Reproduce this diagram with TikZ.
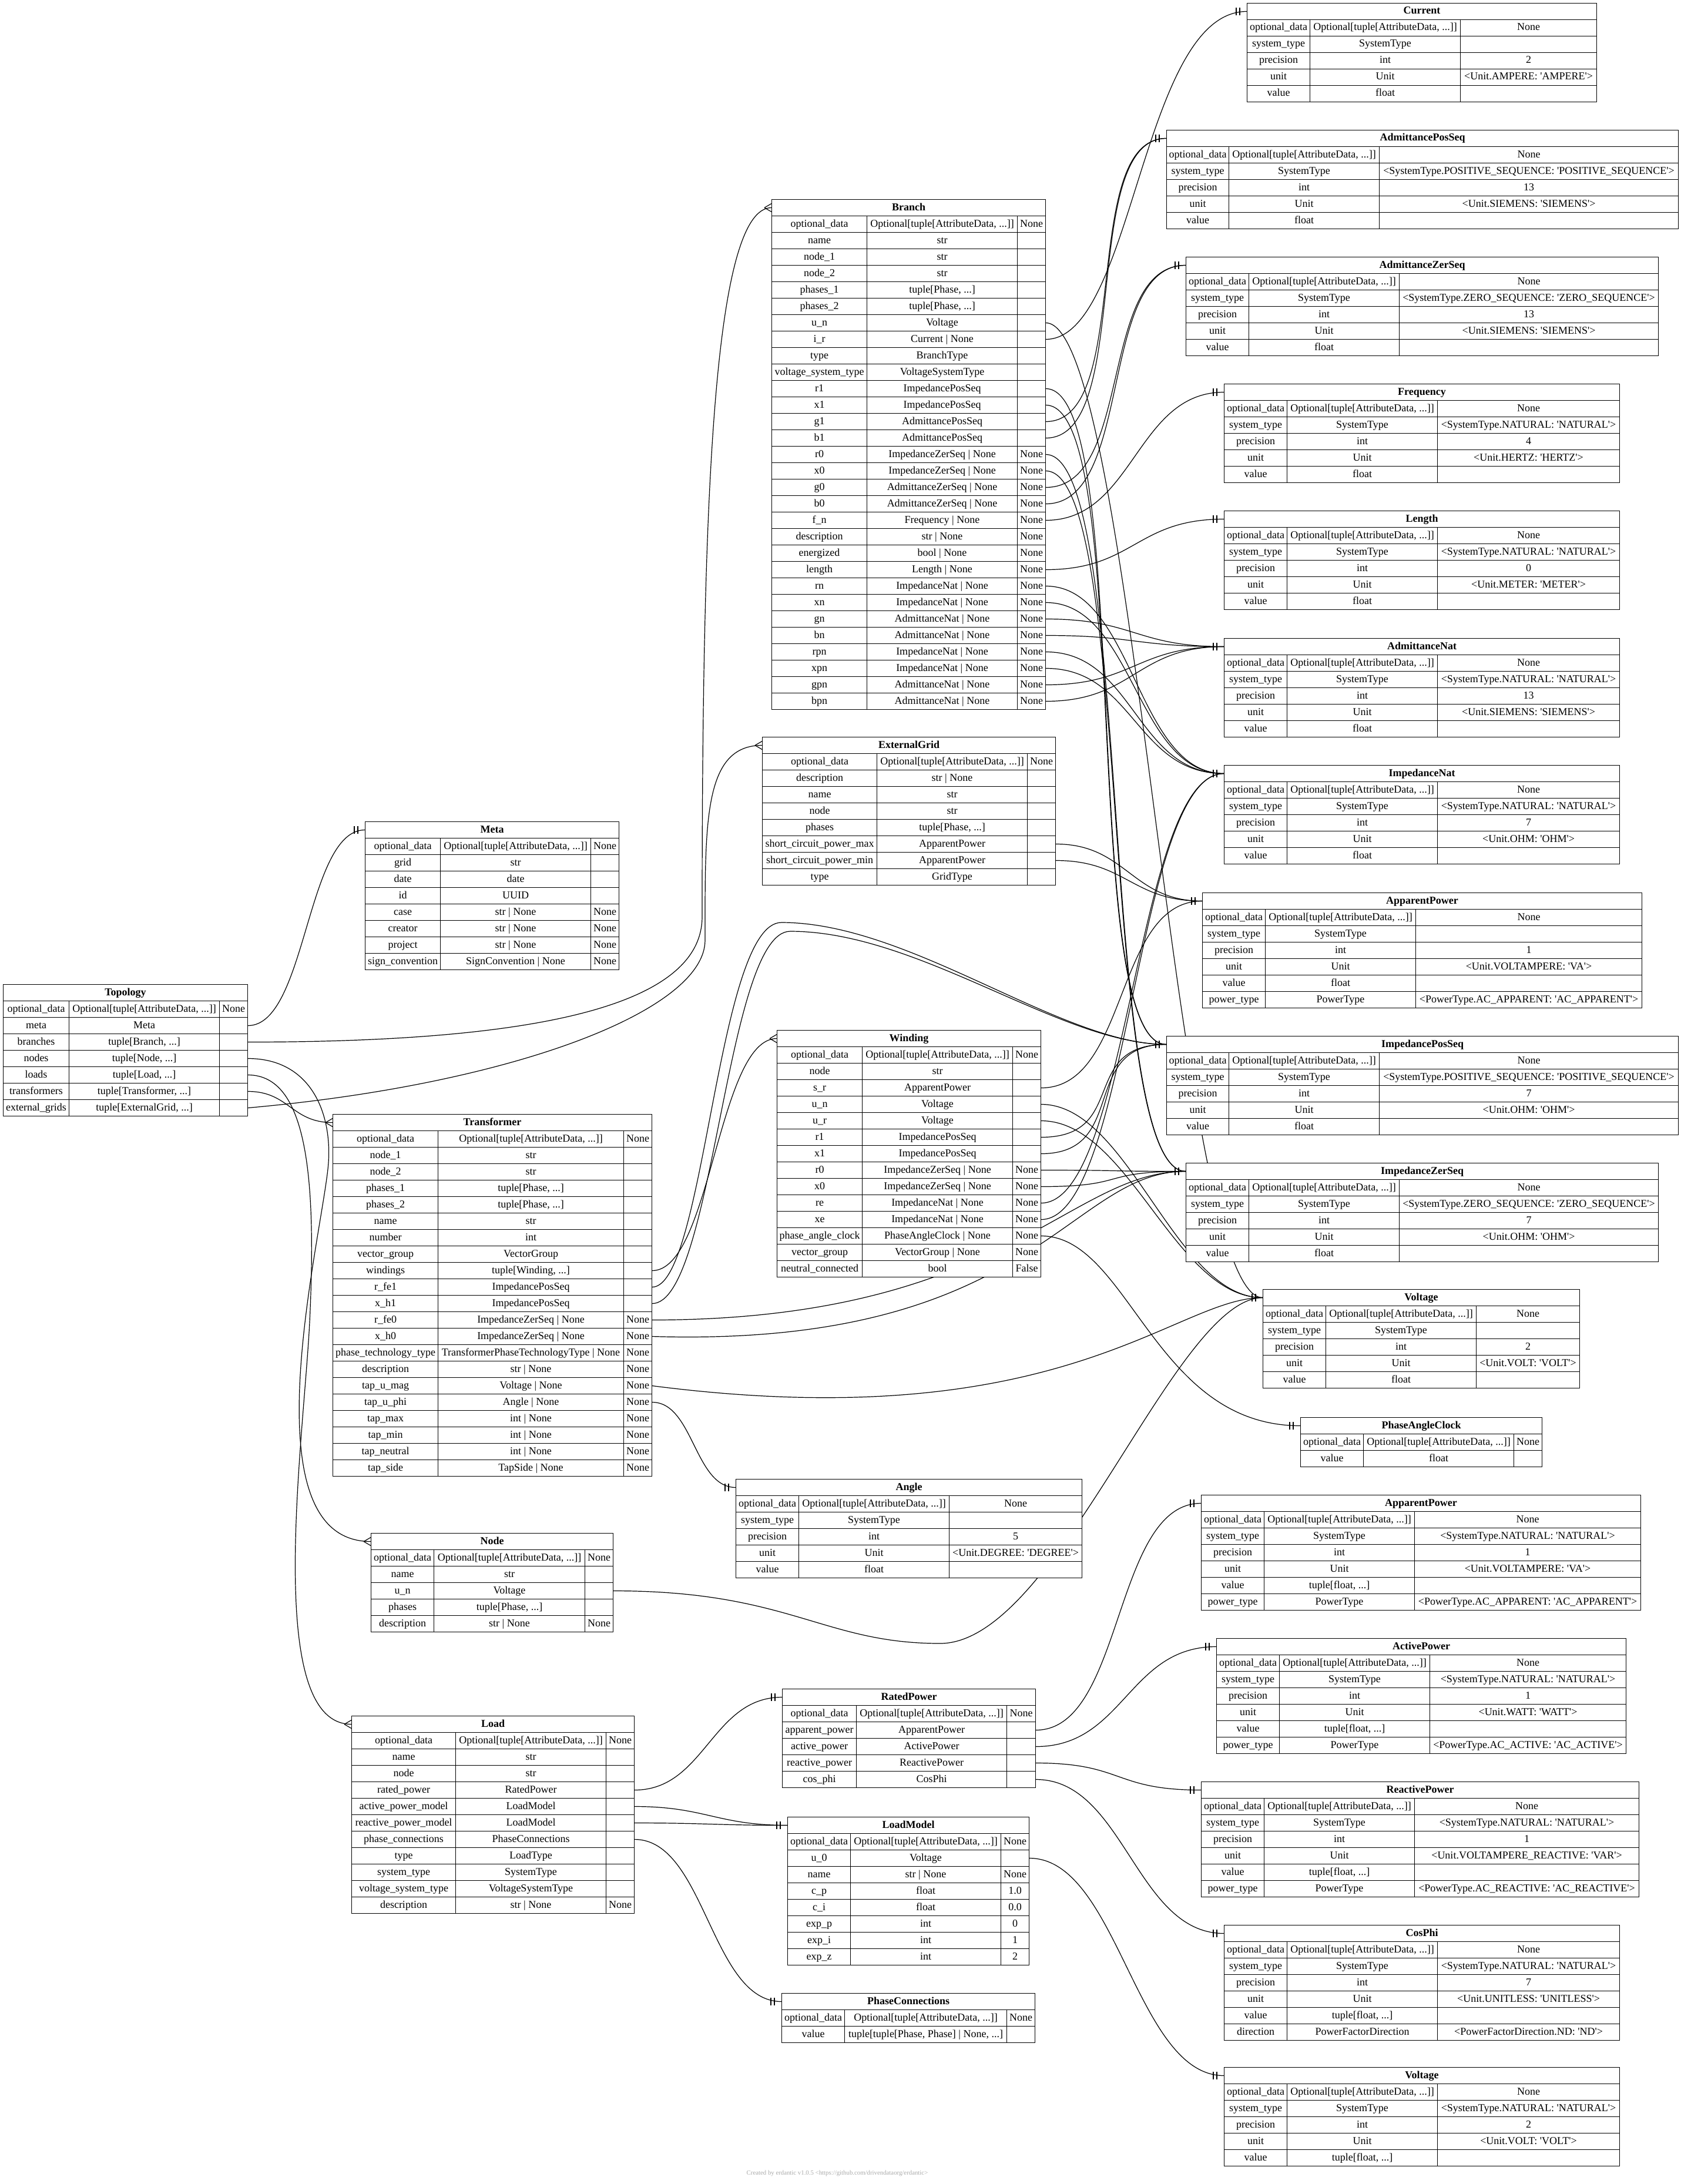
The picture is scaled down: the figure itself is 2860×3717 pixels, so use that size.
\documentclass[tikz,border=0pt]{standalone}
\usepackage{fontspec}
\newfontfamily\erfont{Liberation Serif}
\usetikzlibrary{backgrounds}

\newcommand{\etc}{...}
\newcommand{\optd}{Optional[tuple[AttributeData, \etc]]}
% \ertable{id}{left}{top}{w1}{w2}{w3}{title}{rows}
\newcommand{\ertable}[8]{%
  \node[erhead, minimum width=#4+#5+#6] (#1-h) at (#2,#3) {#7};
  \foreach \rowname/\rowtype/\rowdef [count=\i] in {#8} {%
    \node[ercell, minimum width=#4] (#1-\i-n) at (#2,#3+28*\i) {\rowname};
    \node[ercell, minimum width=#5] (#1-\i-t) at (#2+#4,#3+28*\i) {\rowtype};
    \node[ercell, minimum width=#6] (#1-\i)   at (#2+#4+#5,#3+28*\i) {\rowdef};
  }%
}

\begin{document}
\begin{tikzpicture}[x=1pt, y=-1pt,
  every node/.style={font=\erfont\fontsize{18pt}{21pt}\selectfont},
  ercell/.style={draw, fill=white, line width=1pt, anchor=north west,
                 minimum height=28pt, inner sep=0pt, text height=13pt, text depth=4pt},
  erhead/.style={ercell, font=\erfont\bfseries\fontsize{18pt}{21pt}\selectfont},
  erlink/.style={line width=1.2pt, to path={.. controls +(#1,0) and +(-#1,0) .. (\tikztotarget)}},
  erlink/.default=150,
  onemark/.pic={\draw[line width=2.4pt] (-18pt,-6.5pt) -- (-18pt,6.5pt) (-12pt,-6.5pt) -- (-12pt,6.5pt);},
  manymark/.pic={\draw[line width=1.2pt] (-12pt,0pt) -- (0pt,7pt) (-12pt,0pt) -- (0pt,-7pt);}]

\useasboundingbox (0,0) rectangle (2860,3717);

%% --- Root ---
\ertable{topo}{5}{1675}{112}{256}{48}{Topology}{%
  {optional\_data}/{\optd}/{None},%
  {meta}/{Meta}/{},%
  {branches}/{tuple[Branch, \etc]}/{},%
  {nodes}/{tuple[Node, \etc]}/{},%
  {loads}/{tuple[Load, \etc]}/{},%
  {transformers}/{tuple[Transformer, \etc]}/{},%
  {external\_grids}/{tuple[ExternalGrid, \etc]}/{}}

\ertable{meta}{621}{1398}{128}{256}{48}{Meta}{%
  {optional\_data}/{\optd}/{None},%
  {grid}/{str}/{},%
  {date}/{date}/{},%
  {id}/{UUID}/{},%
  {case}/{str | None}/{None},%
  {creator}/{str | None}/{None},%
  {project}/{str | None}/{None},%
  {sign\_convention}/{SignConvention | None}/{None}}

%% --- Elements ---
\ertable{branch}{1313}{339}{162}{256}{48}{Branch}{%
  {optional\_data}/{\optd}/{None},%
  {name}/{str}/{},%
  {node\_1}/{str}/{},%
  {node\_2}/{str}/{},%
  {phases\_1}/{tuple[Phase, \etc]}/{},%
  {phases\_2}/{tuple[Phase, \etc]}/{},%
  {u\_n}/{Voltage}/{},%
  {i\_r}/{Current | None}/{},%
  {type}/{BranchType}/{},%
  {voltage\_system\_type}/{VoltageSystemType}/{},%
  {r1}/{ImpedancePosSeq}/{},%
  {x1}/{ImpedancePosSeq}/{},%
  {g1}/{AdmittancePosSeq}/{},%
  {b1}/{AdmittancePosSeq}/{},%
  {r0}/{ImpedanceZerSeq | None}/{None},%
  {x0}/{ImpedanceZerSeq | None}/{None},%
  {g0}/{AdmittanceZerSeq | None}/{None},%
  {b0}/{AdmittanceZerSeq | None}/{None},%
  {f\_n}/{Frequency | None}/{None},%
  {description}/{str | None}/{None},%
  {energized}/{bool | None}/{None},%
  {length}/{Length | None}/{None},%
  {rn}/{ImpedanceNat | None}/{None},%
  {xn}/{ImpedanceNat | None}/{None},%
  {gn}/{AdmittanceNat | None}/{None},%
  {bn}/{AdmittanceNat | None}/{None},%
  {rpn}/{ImpedanceNat | None}/{None},%
  {xpn}/{ImpedanceNat | None}/{None},%
  {gpn}/{AdmittanceNat | None}/{None},%
  {bpn}/{AdmittanceNat | None}/{None}}

\ertable{extgrid}{1297}{1254}{195}{256}{48}{ExternalGrid}{%
  {optional\_data}/{\optd}/{None},%
  {description}/{str | None}/{},%
  {name}/{str}/{},%
  {node}/{str}/{},%
  {phases}/{tuple[Phase, \etc]}/{},%
  {short\_circuit\_power\_max}/{ApparentPower}/{},%
  {short\_circuit\_power\_min}/{ApparentPower}/{},%
  {type}/{GridType}/{}}

\ertable{trafo}{566}{1896}{179}{316}{48}{Transformer}{%
  {optional\_data}/{\optd}/{None},%
  {node\_1}/{str}/{},%
  {node\_2}/{str}/{},%
  {phases\_1}/{tuple[Phase, \etc]}/{},%
  {phases\_2}/{tuple[Phase, \etc]}/{},%
  {name}/{str}/{},%
  {number}/{int}/{},%
  {vector\_group}/{VectorGroup}/{},%
  {windings}/{tuple[Winding, \etc]}/{},%
  {r\_fe1}/{ImpedancePosSeq}/{},%
  {x\_h1}/{ImpedancePosSeq}/{},%
  {r\_fe0}/{ImpedanceZerSeq | None}/{None},%
  {x\_h0}/{ImpedanceZerSeq | None}/{None},%
  {phase\_technology\_type}/{TransformerPhaseTechnologyType | None}/{None},%
  {description}/{str | None}/{None},%
  {tap\_u\_mag}/{Voltage | None}/{None},%
  {tap\_u\_phi}/{Angle | None}/{None},%
  {tap\_max}/{int | None}/{None},%
  {tap\_min}/{int | None}/{None},%
  {tap\_neutral}/{int | None}/{None},%
  {tap\_side}/{TapSide | None}/{None}}

\ertable{wind}{1322}{1753}{145}{256}{48}{Winding}{%
  {optional\_data}/{\optd}/{None},%
  {node}/{str}/{},%
  {s\_r}/{ApparentPower}/{},%
  {u\_n}/{Voltage}/{},%
  {u\_r}/{Voltage}/{},%
  {r1}/{ImpedancePosSeq}/{},%
  {x1}/{ImpedancePosSeq}/{},%
  {r0}/{ImpedanceZerSeq | None}/{None},%
  {x0}/{ImpedanceZerSeq | None}/{None},%
  {re}/{ImpedanceNat | None}/{None},%
  {xe}/{ImpedanceNat | None}/{None},%
  {phase\_angle\_clock}/{PhaseAngleClock | None}/{None},%
  {vector\_group}/{VectorGroup | None}/{None},%
  {neutral\_connected}/{bool}/{False}}

\ertable{gridnode}{631}{2609}{107}{257}{48}{Node}{%
  {optional\_data}/{\optd}/{None},%
  {name}/{str}/{},%
  {u\_n}/{Voltage}/{},%
  {phases}/{tuple[Phase, \etc]}/{},%
  {description}/{str | None}/{None}}

\ertable{load}{598}{2920}{177}{256}{48}{Load}{%
  {optional\_data}/{\optd}/{None},%
  {name}/{str}/{},%
  {node}/{str}/{},%
  {rated\_power}/{RatedPower}/{},%
  {active\_power\_model}/{LoadModel}/{},%
  {reactive\_power\_model}/{LoadModel}/{},%
  {phase\_connections}/{PhaseConnections}/{},%
  {type}/{LoadType}/{},%
  {system\_type}/{SystemType}/{},%
  {voltage\_system\_type}/{VoltageSystemType}/{},%
  {description}/{str | None}/{None}}

\ertable{rated}{1331}{2874}{126}{256}{49}{RatedPower}{%
  {optional\_data}/{\optd}/{None},%
  {apparent\_power}/{ApparentPower}/{},%
  {active\_power}/{ActivePower}/{},%
  {reactive\_power}/{ReactivePower}/{},%
  {cos\_phi}/{CosPhi}/{}}

\ertable{lmodel}{1340}{3092}{107}{256}{48}{LoadModel}{%
  {optional\_data}/{\optd}/{None},%
  {u\_0}/{Voltage}/{},%
  {name}/{str | None}/{None},%
  {c\_p}/{float}/{1.0},%
  {c\_i}/{float}/{0.0},%
  {exp\_p}/{int}/{0},%
  {exp\_i}/{int}/{1},%
  {exp\_z}/{int}/{2}}

\ertable{phconn}{1330}{3392}{107}{276}{48}{PhaseConnections}{%
  {optional\_data}/{\optd}/{None},%
  {value}/{tuple[tuple[Phase, Phase] | None, \etc]}/{}}

%% --- Quantities ---
\ertable{current}{2122}{5}{107}{256}{232}{Current}{%
  {optional\_data}/{\optd}/{None},%
  {system\_type}/{SystemType}/{},%
  {precision}/{int}/{2},%
  {unit}/{Unit}/{<Unit.AMPERE: 'AMPERE'>},%
  {value}/{float}/{}}

\ertable{aps}{1985}{221}{106}{256}{509}{AdmittancePosSeq}{%
  {optional\_data}/{\optd}/{None},%
  {system\_type}/{SystemType}/{<SystemType.POSITIVE\_SEQUENCE: 'POSITIVE\_SEQUENCE'>},%
  {precision}/{int}/{13},%
  {unit}/{Unit}/{<Unit.SIEMENS: 'SIEMENS'>},%
  {value}/{float}/{}}

\ertable{azs}{2018}{437}{107}{256}{441}{AdmittanceZerSeq}{%
  {optional\_data}/{\optd}/{None},%
  {system\_type}/{SystemType}/{<SystemType.ZERO\_SEQUENCE: 'ZERO\_SEQUENCE'>},%
  {precision}/{int}/{13},%
  {unit}/{Unit}/{<Unit.SIEMENS: 'SIEMENS'>},%
  {value}/{float}/{}}

\ertable{freq}{2083}{653}{107}{256}{310}{Frequency}{%
  {optional\_data}/{\optd}/{None},%
  {system\_type}/{SystemType}/{<SystemType.NATURAL: 'NATURAL'>},%
  {precision}/{int}/{4},%
  {unit}/{Unit}/{<Unit.HERTZ: 'HERTZ'>},%
  {value}/{float}/{}}

\ertable{length}{2083}{869}{107}{256}{310}{Length}{%
  {optional\_data}/{\optd}/{None},%
  {system\_type}/{SystemType}/{<SystemType.NATURAL: 'NATURAL'>},%
  {precision}/{int}/{0},%
  {unit}/{Unit}/{<Unit.METER: 'METER'>},%
  {value}/{float}/{}}

\ertable{anat}{2083}{1086}{107}{256}{310}{AdmittanceNat}{%
  {optional\_data}/{\optd}/{None},%
  {system\_type}/{SystemType}/{<SystemType.NATURAL: 'NATURAL'>},%
  {precision}/{int}/{13},%
  {unit}/{Unit}/{<Unit.SIEMENS: 'SIEMENS'>},%
  {value}/{float}/{}}

\ertable{inat}{2083}{1302}{107}{256}{310}{ImpedanceNat}{%
  {optional\_data}/{\optd}/{None},%
  {system\_type}/{SystemType}/{<SystemType.NATURAL: 'NATURAL'>},%
  {precision}/{int}/{7},%
  {unit}/{Unit}/{<Unit.OHM: 'OHM'>},%
  {value}/{float}/{}}

\ertable{ap}{2046}{1519}{107}{256}{385}{ApparentPower}{%
  {optional\_data}/{\optd}/{None},%
  {system\_type}/{SystemType}/{},%
  {precision}/{int}/{1},%
  {unit}/{Unit}/{<Unit.VOLTAMPERE: 'VA'>},%
  {value}/{float}/{},%
  {power\_type}/{PowerType}/{<PowerType.AC\_APPARENT: 'AC\_APPARENT'>}}

\ertable{ips}{1985}{1763}{106}{256}{509}{ImpedancePosSeq}{%
  {optional\_data}/{\optd}/{None},%
  {system\_type}/{SystemType}/{<SystemType.POSITIVE\_SEQUENCE: 'POSITIVE\_SEQUENCE'>},%
  {precision}/{int}/{7},%
  {unit}/{Unit}/{<Unit.OHM: 'OHM'>},%
  {value}/{float}/{}}

\ertable{izs}{2018}{1979}{107}{256}{441}{ImpedanceZerSeq}{%
  {optional\_data}/{\optd}/{None},%
  {system\_type}/{SystemType}/{<SystemType.ZERO\_SEQUENCE: 'ZERO\_SEQUENCE'>},%
  {precision}/{int}/{7},%
  {unit}/{Unit}/{<Unit.OHM: 'OHM'>},%
  {value}/{float}/{}}

\ertable{volt}{2149}{2194}{107}{256}{176}{Voltage}{%
  {optional\_data}/{\optd}/{None},%
  {system\_type}/{SystemType}/{},%
  {precision}/{int}/{2},%
  {unit}/{Unit}/{<Unit.VOLT: 'VOLT'>},%
  {value}/{float}/{}}

\ertable{pac}{2213}{2412}{107}{256}{48}{PhaseAngleClock}{%
  {optional\_data}/{\optd}/{None},%
  {value}/{float}/{}}

\ertable{angle}{1252}{2517}{107}{256}{226}{Angle}{%
  {optional\_data}/{\optd}/{None},%
  {system\_type}/{SystemType}/{},%
  {precision}/{int}/{5},%
  {unit}/{Unit}/{<Unit.DEGREE: 'DEGREE'>},%
  {value}/{float}/{}}

\ertable{ap2}{2044}{2544}{107}{256}{385}{ApparentPower}{%
  {optional\_data}/{\optd}/{None},%
  {system\_type}/{SystemType}/{<SystemType.NATURAL: 'NATURAL'>},%
  {precision}/{int}/{1},%
  {unit}/{Unit}/{<Unit.VOLTAMPERE: 'VA'>},%
  {value}/{tuple[float, \etc]}/{},%
  {power\_type}/{PowerType}/{<PowerType.AC\_APPARENT: 'AC\_APPARENT'>}}

\ertable{active}{2070}{2788}{107}{256}{334}{ActivePower}{%
  {optional\_data}/{\optd}/{None},%
  {system\_type}/{SystemType}/{<SystemType.NATURAL: 'NATURAL'>},%
  {precision}/{int}/{1},%
  {unit}/{Unit}/{<Unit.WATT: 'WATT'>},%
  {value}/{tuple[float, \etc]}/{},%
  {power\_type}/{PowerType}/{<PowerType.AC\_ACTIVE: 'AC\_ACTIVE'>}}

\ertable{reactive}{2044}{3032}{107}{256}{382}{ReactivePower}{%
  {optional\_data}/{\optd}/{None},%
  {system\_type}/{SystemType}/{<SystemType.NATURAL: 'NATURAL'>},%
  {precision}/{int}/{1},%
  {unit}/{Unit}/{<Unit.VOLTAMPERE\_REACTIVE: 'VAR'>},%
  {value}/{tuple[float, \etc]}/{},%
  {power\_type}/{PowerType}/{<PowerType.AC\_REACTIVE: 'AC\_REACTIVE'>}}

\ertable{cosphi}{2083}{3276}{107}{256}{310}{CosPhi}{%
  {optional\_data}/{\optd}/{None},%
  {system\_type}/{SystemType}/{<SystemType.NATURAL: 'NATURAL'>},%
  {precision}/{int}/{7},%
  {unit}/{Unit}/{<Unit.UNITLESS: 'UNITLESS'>},%
  {value}/{tuple[float, \etc]}/{},%
  {direction}/{PowerFactorDirection}/{<PowerFactorDirection.ND: 'ND'>}}

\ertable{volt2}{2083}{3518}{107}{256}{310}{Voltage}{%
  {optional\_data}/{\optd}/{None},%
  {system\_type}/{SystemType}/{<SystemType.NATURAL: 'NATURAL'>},%
  {precision}/{int}/{2},%
  {unit}/{Unit}/{<Unit.VOLT: 'VOLT'>},%
  {value}/{tuple[float, \etc]}/{}}

\node[font=\erfont\fontsize{10.8pt}{13pt}\selectfont, text=black!33] (credit) at (1425,3699)
  {Created by erdantic v1.0.5 <https://github.com/drivendataorg/erdantic>};

%% --- Bend points ---
\coordinate (brup)     at (1195,1560);
\coordinate (egup)     at (1200,1600);
\coordinate (nodebend) at (558,1990);
\coordinate (loadbend) at (527,2250);
\coordinate (crestA)   at (1330,1570);
\coordinate (crestB)   at (1345,1585);
\coordinate (dip)      at (1600,2797);

%% --- Connectors ---
\begin{scope}[on background layer]
  \fill[white] (0,0) rectangle (2860,3717);
  % Topology
  \draw[erlink=100] (topo-2.east) to (meta-h.west);
  \draw[erlink] (topo-3.east) .. controls +(500,0) and +(0,150) .. (brup)
        .. controls +(0,-700) and +(-100,0) .. (branch-h.west);
  \draw[erlink] (topo-4.east) .. controls +(110,0) and +(10,-90) .. (nodebend)
        .. controls +(-15,135) and +(-210,0) .. (gridnode-h.west);
  \draw[erlink] (topo-5.east) .. controls +(100,0) and +(12,-250) .. (loadbend)
        .. controls +(-10,200) and +(-150,0) .. (load-h.west);
  \draw[erlink=70] (topo-6.east) to (trafo-h.west);
  \draw[erlink] (topo-7.east) .. controls +(450,-40) and +(0,120) .. (egup)
        .. controls +(0,-200) and +(-100,0) .. (extgrid-h.west);

  % Branch
  \draw[erlink] (branch-7.east) to (volt-h.west);
  \draw[erlink] (branch-8.east) .. controls +(150,0) and +(-180,0) .. (current-h.west);
  \draw[erlink] (branch-11.east) to (ips-h.west);   \draw[erlink] (branch-12.east) to (ips-h.west);
  \draw[erlink] (branch-13.east) to (aps-h.west);   \draw[erlink] (branch-14.east) to (aps-h.west);
  \draw[erlink] (branch-15.east) to (izs-h.west);   \draw[erlink] (branch-16.east) to (izs-h.west);
  \draw[erlink] (branch-17.east) to (azs-h.west);   \draw[erlink] (branch-18.east) to (azs-h.west);
  \draw[erlink] (branch-19.east) to (freq-h.west);
  \draw[erlink] (branch-22.east) to (length-h.west);
  \draw[erlink] (branch-23.east) to (inat-h.west);  \draw[erlink] (branch-24.east) to (inat-h.west);
  \draw[erlink] (branch-25.east) to (anat-h.west);  \draw[erlink] (branch-26.east) to (anat-h.west);
  \draw[erlink] (branch-27.east) to (inat-h.west);  \draw[erlink] (branch-28.east) to (inat-h.west);
  \draw[erlink] (branch-29.east) to (anat-h.west);  \draw[erlink] (branch-30.east) to (anat-h.west);

  % ExternalGrid
  \draw[erlink=120] (extgrid-6.east) to (ap-h.west);
  \draw[erlink=120] (extgrid-7.east) to (ap-h.west);

  % Transformer
  \draw[erlink=100] (trafo-9.east) to (wind-h.west);
  \draw[erlink] (trafo-10.east) .. controls +(90,0) and +(-110,0) .. (crestA)
        .. controls +(220,0) and +(-180,0) .. (ips-h.west);
  \draw[erlink] (trafo-11.east) .. controls +(105,0) and +(-110,0) .. (crestB)
        .. controls +(220,0) and +(-180,0) .. (ips-h.west);
  \draw[erlink] (trafo-12.east) .. controls +(600,0) and +(-200,0) .. (izs-h.west);
  \draw[erlink] (trafo-13.east) .. controls +(650,20) and +(-200,0) .. (izs-h.west);
  \draw[erlink] (trafo-16.east) .. controls +(700,90) and +(-150,0) .. (volt-h.west);
  \draw[erlink=70] (trafo-17.east) to (angle-h.west);

  % Winding
  \draw[erlink] (wind-3.east) to (ap-h.west);
  \draw[erlink] (wind-4.east) to (volt-h.west);   \draw[erlink] (wind-5.east) to (volt-h.west);
  \draw[erlink] (wind-6.east) to (ips-h.west);    \draw[erlink] (wind-7.east) to (ips-h.west);
  \draw[erlink] (wind-8.east) to (izs-h.west);    \draw[erlink] (wind-9.east) to (izs-h.west);
  \draw[erlink] (wind-10.east) to (inat-h.west);  \draw[erlink] (wind-11.east) to (inat-h.west);
  \draw[erlink] (wind-12.east) .. controls +(150,0) and +(-250,0) .. (pac-h.west);

  % Node
  \draw[erlink] (gridnode-3.east) .. controls +(300,0) and +(-200,0) .. (dip)
        .. controls +(200,0) and +(-150,0) .. (volt-h.west);

  % Load
  \draw[erlink=120] (load-4.east) to (rated-h.west);
  \draw[erlink=120] (load-5.east) to (lmodel-h.west);
  \draw[erlink=120] (load-6.east) to (lmodel-h.west);
  \draw[erlink=120] (load-7.east) to (phconn-h.west);

  % RatedPower, LoadModel
  \draw[erlink] (rated-2.east) to (ap2-h.west);
  \draw[erlink] (rated-3.east) to (active-h.west);
  \draw[erlink] (rated-4.east) to (reactive-h.west);
  \draw[erlink] (rated-5.east) to (cosphi-h.west);
  \draw[erlink] (lmodel-2.east) to (volt2-h.west);

  % end markers
  \foreach \tgt in {meta,current,aps,azs,freq,length,anat,inat,ap,ips,izs,volt,pac,angle,
                    rated,lmodel,phconn,ap2,active,reactive,cosphi,volt2}
    \path (\tgt-h.west) pic {onemark};
  \foreach \tgt in {branch,gridnode,load,trafo,extgrid,wind}
    \path (\tgt-h.west) pic {manymark};
\end{scope}
\end{tikzpicture}
\end{document}
